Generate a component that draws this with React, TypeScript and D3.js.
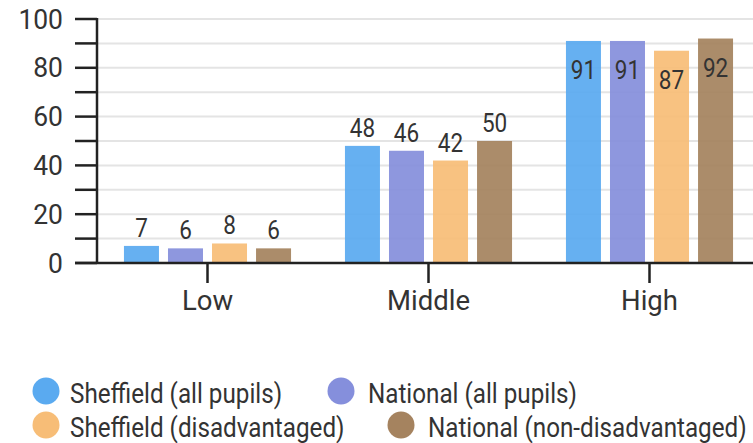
import React from "react";
import * as d3 from "d3";

const categories = ["Low", "Middle", "High"];
const seriesNames = [
  "Sheffield (all pupils)",
  "National (all pupils)",
  "Sheffield (disadvantaged)",
  "National (non-disadvantaged)",
];
const sheffieldAll = [7, 48, 91];
const nationalAll = [6, 46, 91];
const sheffieldDisadvantaged = [8, 42, 87];
const nationalNonDisadvantaged = [6, 50, 92];
const seriesValues = [sheffieldAll, nationalAll, sheffieldDisadvantaged, nationalNonDisadvantaged];
const colors = ["#5aaaf0", "#858fdc", "#f7bd77", "#a5835f"];
const yTicks = [0, 20, 40, 60, 80, 100];

const W = 753;
const H = 443;
const FONT = "Roboto, 'Noto Sans', sans-serif";
const TEXT = "#333";

export default function App() {
  const y = d3.scaleLinear().domain([0, 100]).range([263, 19]);
  const x0 = d3.scaleBand<string>().domain(categories).range([97, 760]).paddingInner(0.244).paddingOuter(0.122);
  const x1 = d3
    .scaleBand<number>()
    .domain(d3.range(seriesNames.length))
    .range([0, x0.bandwidth()])
    .paddingInner(0.205)
    .paddingOuter(0);
  const minorTicks = d3.range(0, 101, 10);

  const legendItems = [
    { i: 0, cx: 46, ty: 392, tx: 70 },
    { i: 1, cx: 341, ty: 392, tx: 368 },
    { i: 2, cx: 46, ty: 426, tx: 70 },
    { i: 3, cx: 401, ty: 426, tx: 428 },
  ];

  return (
    <svg
      width={W}
      height={H}
      style={{ position: "fixed", left: 0, top: 0, background: "#fff" }}
      fontFamily={FONT}
    >
      <rect width={W} height={H} fill="#fff" />
      {/* horizontal gridlines */}
      {minorTicks.map((t) => (
        <line key={"g" + t} x1={97} x2={W} y1={y(t)} y2={y(t)} stroke="#e4e4e4" strokeWidth={2} />
      ))}
      {/* bars */}
      {categories.map((c, ci) => (
        <g key={c} transform={`translate(${x0(c)},0)`}>
          {seriesValues.map((vals, si) => {
            const v = vals[ci];
            const bx = x1(si)!;
            const top = y(v);
            const inside = v > 80;
            return (
              <g key={si}>
                <rect x={bx} y={top} width={x1.bandwidth()} height={y(0) - top} fill={colors[si]} fillOpacity={0.93} />
                <text
                  transform={`translate(${bx + x1.bandwidth() / 2},${inside ? top + 38 : top - 9}) scale(0.9,1)`}
                  textAnchor="middle"
                  fontSize={25}
                  fill={TEXT}
                >
                  {v}
                </text>
              </g>
            );
          })}
        </g>
      ))}
      {/* y axis */}
      <line x1={97} x2={97} y1={y(100) - 1} y2={y(0)} stroke="#222" strokeWidth={2.5} />
      {minorTicks.map((t) => (
        <line key={"t" + t} x1={75} x2={97} y1={y(t)} y2={y(t)} stroke="#222" strokeWidth={2.5} />
      ))}
      {yTicks.map((t) => (
        <text
          key={"yl" + t}
          transform={`translate(63,${y(t) + 9.5}) scale(0.98,1)`}
          textAnchor="end"
          fontSize={27}
          fill={TEXT}
        >
          {t}
        </text>
      ))}
      {/* x axis */}
      <line x1={75} x2={W} y1={y(0)} y2={y(0)} stroke="#222" strokeWidth={2.5} />
      {categories.map((c) => {
        const cx = x0(c)! + x0.bandwidth() / 2;
        return (
          <g key={"x" + c}>
            <line x1={cx} x2={cx} y1={y(0)} y2={y(0) + 20} stroke="#222" strokeWidth={2.5} />
            <text transform={`translate(${cx},310) scale(1,1)`} textAnchor="middle" fontSize={27.5} fill={TEXT}>
              {c}
            </text>
          </g>
        );
      })}
      {/* legend */}
      {legendItems.map((l) => (
        <g key={"l" + l.i}>
          <circle cx={l.cx} cy={l.ty - 1} r={13.5} fill={colors[l.i]} />
          <text transform={`translate(${l.tx},${l.ty + 11}) scale(0.85,1)`} fontSize={28.5} fill={TEXT}>
            {seriesNames[l.i]}
          </text>
        </g>
      ))}
    </svg>
  );
}
